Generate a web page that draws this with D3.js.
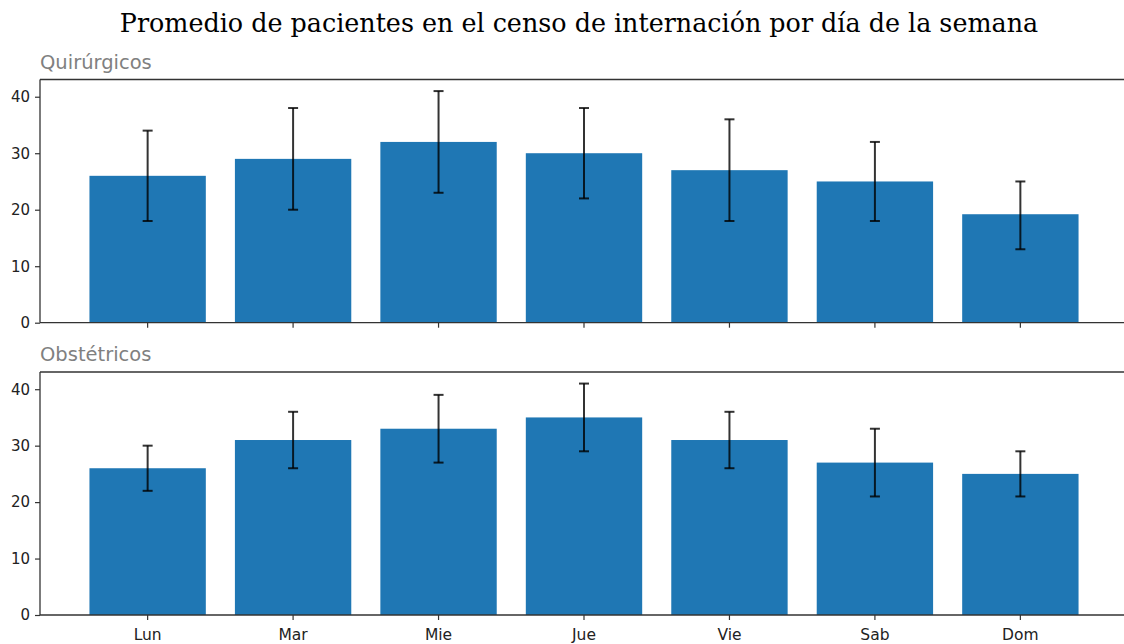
<!DOCTYPE html>
<html>
<head>
<meta charset="utf-8">
<script src="https://cdn.jsdelivr.net/npm/d3@7"></script>
<style>
  html, body { margin: 0; padding: 0; background: #fff; }
  svg { display: block; }
</style>
</head>
<body>
<svg id="chart" width="1124" height="644"></svg>
<script>
// Days of the week
const dias = ["Lun", "Mar", "Mie", "Jue", "Vie", "Sab", "Dom"];

// Surgical ward: mean census and error range
const quirurgicosMedia = [26, 29, 32, 30, 27, 25, 19.2];
const quirurgicosMin   = [18, 20, 23, 22, 18, 18, 13];
const quirurgicosMax   = [34, 38, 41, 38, 36, 32, 25];

// Obstetric ward: mean census and error range
const obstetricosMedia = [26, 31, 33, 35, 31, 27, 25];
const obstetricosMin   = [22, 26, 27, 29, 26, 21, 21];
const obstetricosMax   = [30, 36, 39, 41, 36, 33, 29];

const yTicks = [0, 10, 20, 30, 40];

const titulo = "Promedio de pacientes en el censo de internación por día de la semana";

const svg = d3.select("#chart");
svg.append("rect").attr("width", 1124).attr("height", 644).attr("fill", "#fff");

svg.append("text")
  .attr("x", 579).attr("y", 32)
  .attr("text-anchor", "middle")
  .attr("font-family", "DejaVu Serif")
  .attr("font-size", 25.4)
  .attr("fill", "#000")
  .text(titulo);

const left = 40, right = 1128;
const x = d3.scaleBand()
  .domain(dias)
  .range([left, right])
  .paddingInner(0.2)
  .paddingOuter(0.34);

const yMax = 43.05;

function panel(nombre, media, lo, hi, top, bottom, showLabels) {
  const y = d3.scaleLinear().domain([0, yMax]).range([bottom, top]);
  const g = svg.append("g");

  // subplot title
  g.append("text")
    .attr("x", left).attr("y", top - 11)
    .attr("font-family", "DejaVu Sans")
    .attr("font-size", 19.5)
    .attr("fill", "#808080")
    .text(nombre);

  // bars
  g.selectAll("rect.bar").data(dias).join("rect")
    .attr("class", "bar")
    .attr("x", d => x(d))
    .attr("width", x.bandwidth())
    .attr("y", (d, i) => y(media[i]))
    .attr("height", (d, i) => y(0) - y(media[i]))
    .attr("fill", "#1f77b4");

  // error bars
  const eb = g.append("g")
    .attr("stroke", "#000")
    .attr("stroke-opacity", 0.8)
    .attr("stroke-width", 2);
  dias.forEach((d, i) => {
    const cx = x(d) + x.bandwidth() / 2;
    eb.append("line").attr("x1", cx).attr("x2", cx).attr("y1", y(lo[i])).attr("y2", y(hi[i]));
    eb.append("line").attr("x1", cx - 5).attr("x2", cx + 5).attr("y1", y(lo[i])).attr("y2", y(lo[i]));
    eb.append("line").attr("x1", cx - 5).attr("x2", cx + 5).attr("y1", y(hi[i])).attr("y2", y(hi[i]));
  });

  // y axis
  const ya = g.append("g")
    .attr("transform", `translate(${left},0)`)
    .call(d3.axisLeft(y).tickValues(yTicks).tickSize(5).tickPadding(5).tickFormat(d3.format("d")));
  ya.select(".domain").remove();
  ya.selectAll("line").attr("stroke", "#333").attr("stroke-width", 1.2);
  ya.selectAll("text").attr("font-family", "DejaVu Sans").attr("font-size", 15).attr("fill", "#222");

  // x axis
  const xa = g.append("g")
    .attr("transform", `translate(0,${bottom})`)
    .call(d3.axisBottom(x).tickSize(5).tickPadding(9));
  xa.select(".domain").remove();
  xa.selectAll("line").attr("stroke", "#333").attr("stroke-width", 1.2);
  xa.selectAll("text")
    .attr("font-family", "DejaVu Sans").attr("font-size", 15.5).attr("fill", "#222")
    .style("display", showLabels ? null : "none");

  // spines
  const sp = g.append("g").attr("stroke", "#333").attr("stroke-width", 1.3).attr("fill", "none");
  sp.append("line").attr("x1", left).attr("x2", left).attr("y1", top).attr("y2", bottom);
  sp.append("line").attr("x1", left).attr("x2", right).attr("y1", top).attr("y2", top);
  sp.append("line").attr("x1", left).attr("x2", right).attr("y1", bottom).attr("y2", bottom);
  sp.append("line").attr("x1", right).attr("x2", right).attr("y1", top).attr("y2", bottom);
}

panel("Quirúrgicos", quirurgicosMedia, quirurgicosMin, quirurgicosMax, 79.5, 322.7, false);
panel("Obstétricos", obstetricosMedia, obstetricosMin, obstetricosMax, 372, 615, true);
</script>
</body>
</html>
